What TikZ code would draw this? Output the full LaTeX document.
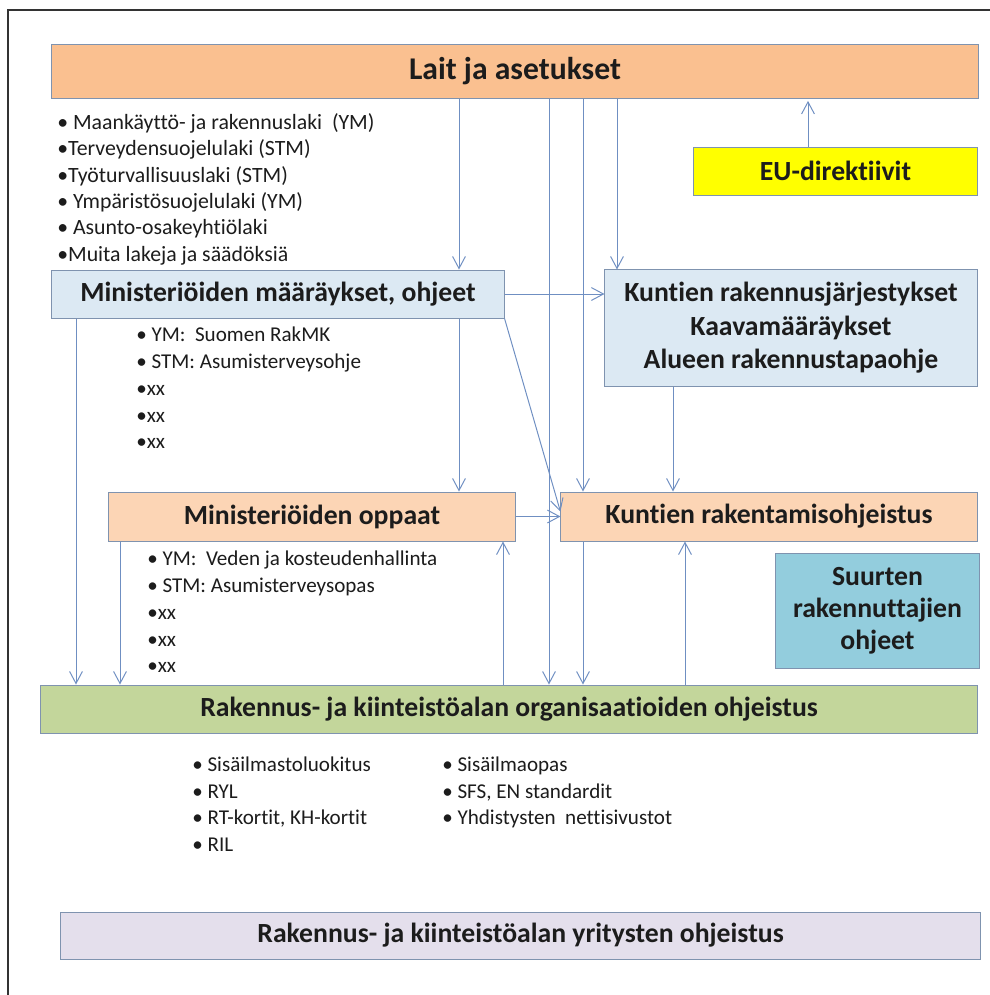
\documentclass[tikz,border=0pt]{standalone}
\usepackage{fontspec}
\setmainfont{Carlito}[Ligatures=NoCommon]
\usetikzlibrary{arrows.meta,positioning}
\definecolor{laitC}{HTML}{FAC090}
\definecolor{persikka}{HTML}{FCD5B5}
\definecolor{vaalsin}{HTML}{DCE9F3}
\definecolor{keltainen}{HTML}{FFFF00}
\definecolor{suuretC}{HTML}{93CDDD}
\definecolor{vihrea}{HTML}{C3D69B}
\definecolor{laventeli}{HTML}{E4DFEC}
\definecolor{reunaC}{HTML}{7F93AF}
\definecolor{nuoliC}{HTML}{6F8FC2}
\definecolor{tekstiC}{HTML}{1C1C1C}
\tikzset{
  laatikko/.style={rectangle, draw=reunaC, line width=0.7pt, fill=#1, align=center,
                   inner sep=0pt, text=tekstiC, font=\fontsize{19.7}{23.8}\selectfont\bfseries},
  luettelo/.style={anchor=north west, align=left, inner sep=0pt, text=tekstiC,
                   font=\fontsize{15}{18.8}\selectfont},
  nuoli/.style={-{Straight Barb[length=3mm,width=3.2mm]}, line width=0.7pt, draw=nuoliC},
}

\begin{document}
\begin{tikzpicture}[x=0.025cm, y=-0.025cm]
  \useasboundingbox (0,0) rectangle (990,995);
  \draw[line width=0.8pt, black!80] (8,995) |- (990,10);

  % laatikot
  \node[laatikko=laitC, minimum width=23.15cm, minimum height=1.35cm,
        font=\fontsize{22.5}{27}\selectfont\bfseries] (lait) at (515,71) {Lait ja asetukset};
  \node[laatikko=keltainen, minimum width=7.075cm, minimum height=1.2cm] (eu) at (835.5,171) {EU-direktiivit};
  \node[laatikko=vaalsin, minimum width=11.3cm, minimum height=1.2cm] (maaraykset) at (278,294)
    {Ministeriöiden määräykset, ohjeet};
  \node[laatikko=vaalsin, minimum width=9.3cm, minimum height=2.9cm] (kaava) at (791,328)
    {Kuntien rakennusjärjestykset\\Kaavamääräykset\\Alueen rakennustapaohje};
  \node[laatikko=persikka, minimum width=10.15cm, minimum height=1.225cm] (oppaat) at (312,516.5)
    {Ministeriöiden oppaat};
  \node[laatikko=persikka, minimum width=10.4cm, minimum height=1.225cm] (kunta) at (769,516.5)
    {Kuntien rakentamisohjeistus};
  \node[laatikko=suuretC, minimum width=5.075cm, minimum height=2.875cm,
        font=\fontsize{19.7}{22.8}\selectfont\bfseries] (suuret) at (877.5,610.5)
    {Suurten\\rakennuttajien\\ohjeet};
  \node[laatikko=vihrea, minimum width=23.4cm, minimum height=1.2cm] (org) at (509,709)
    {Rakennus- ja kiinteistöalan organisaatioiden ohjeistus};
  \node[laatikko=laventeli, minimum width=22.975cm, minimum height=1.175cm] (yritys) at (520.5,935.5)
    {Rakennus- ja kiinteistöalan yritysten ohjeistus};

  % luettelot
  \node[luettelo, font=\fontsize{15.5}{18.8}\selectfont] (lait-lista) at (57,113)
    {• Maankäyttö- ja rakennuslaki~~(YM)\\•Terveydensuojelulaki~(STM)\\•Työturvallisuuslaki (STM)\\
     • Ympäristösuojelulaki~(YM)\\• Asunto-osakeyhtiölaki\\•Muita lakeja ja säädöksiä};
  \node[luettelo, font=\fontsize{15}{19}\selectfont] (maar-lista) at (136,327)
    {• YM:~~Suomen RakMK\\• STM: Asumisterveysohje\\•xx\\•xx\\•xx};
  \node[luettelo, font=\fontsize{15}{19}\selectfont] (opas-lista) at (147,551)
    {• YM:~~Veden ja kosteudenhallinta\\• STM: Asumisterveysopas\\•xx\\•xx\\•xx};
  \node[luettelo] (org-lista1) at (192,757)
    {• Sisäilmastoluokitus\\• RYL\\• RT-kortit, KH-kortit\\• RIL};
  \node[luettelo] (org-lista2) at (442,757)
    {• Sisäilmaopas\\• SFS, EN standardit\\• Yhdistysten~~nettisivustot};

  % pystyviivojen paikat
  \coordinate (sA) at (459,0);
  \coordinate (sB) at (617,0);
  \coordinate (sC) at (549,0);
  \coordinate (sD) at (583,0);
  \coordinate (sE) at (808,0);
  \coordinate (sF) at (76,0);
  \coordinate (sG) at (120,0);
  \coordinate (sH) at (503,0);
  \coordinate (sI) at (673,0);
  \coordinate (sJ) at (685,0);

  % nuolet
  \draw[nuoli] (lait.south -| sA) -- (maaraykset.north -| sA);
  \draw[nuoli] (lait.south -| sB) -- (kaava.north -| sB);
  \draw[nuoli] (lait.south -| sC) -- (org.north -| sC);
  \draw[nuoli] (lait.south -| sD) -- (kunta.north -| sD);
  \draw[nuoli] (eu.north -| sE) -- ([yshift=-0.06cm]lait.south -| sE);
  \draw[nuoli] (maaraykset.east) -- (maaraykset.east -| kaava.west);
  \draw[nuoli] (maaraykset.south east) -- ([yshift=0.12cm]kunta.west);
  \draw[nuoli] (maaraykset.south -| sA) -- (oppaat.north -| sA);
  \draw[nuoli] (maaraykset.south -| sF) -- (org.north -| sF);
  \draw[nuoli] (oppaat.south -| sG) -- (org.north -| sG);
  \draw[nuoli] (oppaat.east) -- (kunta.west);
  \draw[nuoli] (org.north -| sH) -- (oppaat.south -| sH);
  \draw[nuoli] (kaava.south -| sI) -- (kunta.north -| sI);
  \draw[nuoli] (org.north -| sJ) -- (kunta.south -| sJ);
  \draw[nuoli] (kunta.south -| sD) -- (org.north -| sD);
\end{tikzpicture}
\end{document}
